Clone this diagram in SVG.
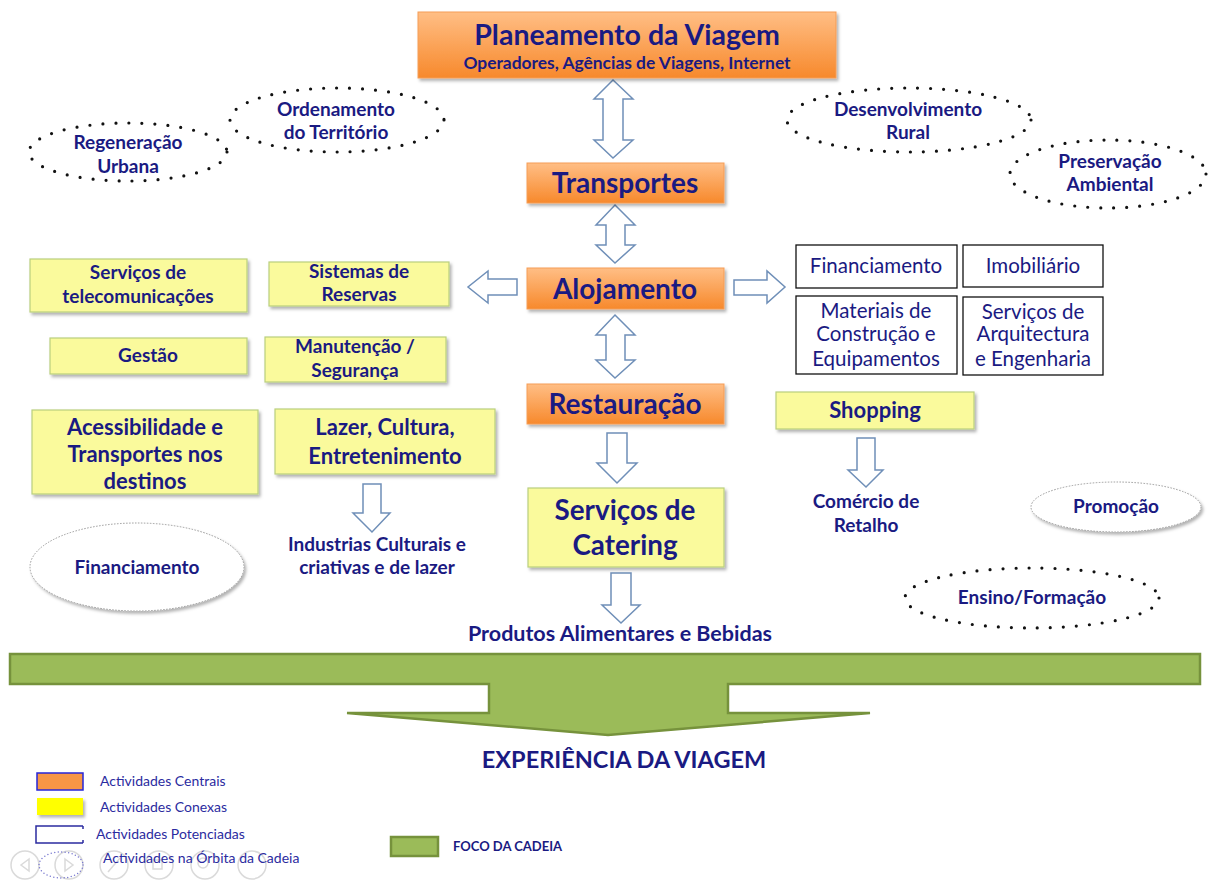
<svg xmlns="http://www.w3.org/2000/svg" width="1208" height="882" viewBox="0 0 1208 882">
<defs>
<linearGradient id="og" x1="0" y1="0" x2="0" y2="1">
<stop offset="0" stop-color="#FFBE85"/>
<stop offset="1" stop-color="#F7892C"/>
</linearGradient>
<filter id="sh" x="-10%" y="-10%" width="125%" height="135%">
<feDropShadow dx="2" dy="2.5" stdDeviation="1.5" flood-color="#000" flood-opacity="0.3"/>
</filter>
</defs>
<style>
text{font-family:Lato,"Open Sans","Liberation Sans",sans-serif;fill:#1A1A82;text-anchor:middle}
.b{font-weight:700}
.n{font-weight:400}
.s{font-size:19px}
.r{font-size:20.5px}
.core{fill:url(#og);stroke:#F59D56;stroke-width:1;filter:url(#sh)}
.rel{fill:#FAFA9C;stroke:#B9CF7E;stroke-width:1.2;filter:url(#sh)}
.pot{fill:#fff;stroke:#111;stroke-width:1.3}
.arr{fill:#fff;stroke:#6F8FB8;stroke-width:1.5;stroke-linejoin:miter}
.orb{fill:none;stroke:#111;stroke-width:3.2;stroke-linecap:round;stroke-dasharray:0 13}
.soft{fill:#fff;stroke:#999;stroke-width:1;stroke-dasharray:1.5 1.5;filter:url(#sh)}
.lg{font-size:14px;text-anchor:start;fill:#2B2BA0}
.tb{fill:none;stroke:#DADADA;stroke-width:1.5}
</style>
<rect width="1208" height="882" fill="#fff"/>

<g id="connectors">
<path class="arr" d="M613,80 L633,99 L623,99 L623,140 L633,140 L613,158 L594,140 L603,140 L603,99 L594,99 Z"/>
<path class="arr" d="M615,205 L635,225 L625,225 L625,245 L635,245 L615,263 L596,245 L606,245 L606,225 L596,225 Z"/>
<path class="arr" d="M615,315 L635,335 L625,335 L625,360 L635,360 L615,378 L596,360 L606,360 L606,335 L596,335 Z"/>
<path class="arr" d="M607,433 L627,433 L627,463 L637,463 L617,483 L597,463 L607,463 Z"/>
<path class="arr" d="M611,573 L631,573 L631,605 L640,605 L621,623 L602,605 L611,605 Z"/>
<path class="arr" d="M517,279 L488,279 L488,271 L468,287 L488,303 L488,295 L517,295 Z"/>
<path class="arr" d="M734,280 L767,280 L767,271 L785,287 L767,303 L767,295 L734,295 Z"/>
<path class="arr" d="M857,438 L875,438 L875,470 L883,470 L866,487 L848,470 L857,470 Z"/>
<path class="arr" d="M363,484 L381,484 L381,513 L390,513 L372,532 L353,513 L363,513 Z"/>
</g>

<g id="planeamento">
<rect class="core" x="418" y="12" width="418" height="66"/>
<text class="b" x="627" y="45" font-size="28.5">Planeamento da Viagem</text>
<text class="b" x="627" y="69" font-size="17.4">Operadores, Agências de Viagens, Internet</text>
</g>
<g id="transportes">
<rect class="core" x="527" y="163" width="197" height="40"/>
<text class="b" x="625" y="193" font-size="28">Transportes</text>
</g>
<g id="alojamento">
<rect class="core" x="527" y="268" width="197" height="41"/>
<text class="b" x="625" y="299" font-size="28">Alojamento</text>
</g>
<g id="restauracao">
<rect class="core" x="527" y="384" width="197" height="40"/>
<text class="b" x="625" y="414" font-size="28">Restauração</text>
</g>
<g id="catering">
<rect class="rel" x="528" y="488" width="196" height="79"/>
<text class="b" x="625" y="520" font-size="27.8">Serviços de</text>
<text class="b" x="625" y="555" font-size="27.8">Catering</text>
</g>
<g id="produtos">
<text class="b" x="620" y="641" font-size="21.5">Produtos Alimentares e Bebidas</text>
</g>

<g id="telecom">
<rect class="rel" x="30" y="259" width="217" height="53"/>
<text class="b s" x="138" y="279">Serviços de</text>
<text class="b s" x="138" y="303">telecomunicações</text>
</g>
<g id="reservas">
<rect class="rel" x="269" y="262" width="180" height="44"/>
<text class="b s" x="359" y="278">Sistemas de</text>
<text class="b s" x="359" y="301">Reservas</text>
</g>
<g id="gestao">
<rect class="rel" x="50" y="338" width="197" height="36"/>
<text class="b s" x="148" y="362">Gestão</text>
</g>
<g id="manutencao">
<rect class="rel" x="265" y="337" width="181" height="45"/>
<text class="b s" x="355" y="353">Manutenção /</text>
<text class="b s" x="355" y="377">Segurança</text>
</g>
<g id="acessibilidade">
<rect class="rel" x="32" y="410" width="226" height="84"/>
<text class="b" x="145" y="435" font-size="22">Acessibilidade e</text>
<text class="b" x="145" y="462" font-size="22">Transportes nos</text>
<text class="b" x="145" y="489" font-size="22">destinos</text>
</g>
<g id="lazer">
<rect class="rel" x="275" y="409" width="220" height="65"/>
<text class="b" x="385" y="435" font-size="22">Lazer, Cultura,</text>
<text class="b" x="385" y="464" font-size="22">Entretenimento</text>
</g>
<g id="industrias">
<text class="b s" x="377" y="551">Industrias Culturais e</text>
<text class="b s" x="377" y="574">criativas e de lazer</text>
</g>
<g id="financiamento-orb">
<ellipse class="soft" cx="137" cy="567" rx="107" ry="44"/>
<text class="b s" x="137" y="574">Financiamento</text>
</g>

<g id="financiamento">
<rect class="pot" x="796" y="245" width="161" height="43"/>
<text class="n r" x="876" y="273">Financiamento</text>
</g>
<g id="imobiliario">
<rect class="pot" x="963" y="245" width="140" height="42"/>
<text class="n r" x="1033" y="273">Imobiliário</text>
</g>
<g id="materiais">
<rect class="pot" x="796" y="296" width="161" height="78"/>
<text class="n r" x="876" y="318">Materiais de</text>
<text class="n r" x="876" y="341">Construção e</text>
<text class="n r" x="876" y="366">Equipamentos</text>
</g>
<g id="arquitectura">
<rect class="pot" x="963" y="297" width="140" height="78"/>
<text class="n r" x="1033" y="319">Serviços de</text>
<text class="n r" x="1033" y="341">Arquitectura</text>
<text class="n r" x="1033" y="366">e Engenharia</text>
</g>
<g id="shopping">
<rect class="rel" x="776" y="392" width="198" height="37"/>
<text class="b" x="875" y="418" font-size="22">Shopping</text>
</g>
<g id="comercio">
<text class="b s" x="866" y="508">Comércio de</text>
<text class="b s" x="866" y="532">Retalho</text>
</g>
<g id="promocao">
<ellipse class="soft" cx="1116" cy="507" rx="85" ry="25"/>
<text class="b s" x="1116" y="513">Promoção</text>
</g>

<g id="regeneracao">
<ellipse class="orb" cx="128" cy="152" rx="99" ry="29"/>
<text class="b s" x="128" y="149">Regeneração</text>
<text class="b s" x="128" y="173">Urbana</text>
</g>
<g id="ordenamento">
<ellipse class="orb" cx="337" cy="120" rx="107" ry="32"/>
<text class="b s" x="336" y="116">Ordenamento</text>
<text class="b s" x="336" y="139">do Território</text>
</g>
<g id="desenvolvimento">
<ellipse class="orb" cx="909" cy="120" rx="122" ry="32"/>
<text class="b s" x="908" y="116">Desenvolvimento</text>
<text class="b s" x="908" y="139">Rural</text>
</g>
<g id="preservacao">
<ellipse class="orb" cx="1108" cy="174" rx="98" ry="34"/>
<text class="b s" x="1110" y="168">Preservação</text>
<text class="b s" x="1110" y="191">Ambiental</text>
</g>
<g id="ensino">
<ellipse class="orb" cx="1032" cy="598" rx="127" ry="30"/>
<text class="b s" x="1032" y="604">Ensino/Formação</text>
</g>

<g id="foco">
<path d="M10,654 L1200,654 L1200,684 L728,684 L728,713 L870,713 L608,735 L347,713 L489,713 L489,684 L10,684 Z" fill="#9BBB59" stroke="#76923C" stroke-width="2.5" stroke-linejoin="miter"/>
<text class="b" x="624" y="768" font-size="23.5">EXPERIÊNCIA DA VIAGEM</text>
</g>

<g id="toolbar">
<circle class="tb" cx="25" cy="865" r="14"/>
<path class="tb" d="M29,859 L21,865 L29,871 Z"/>
<circle class="tb" cx="69" cy="865" r="14"/>
<path class="tb" d="M65,859 L73,865 L65,871 Z"/>
<circle class="tb" cx="114" cy="865" r="14"/>
<path class="tb" d="M108,872 L120,858"/>
<circle class="tb" cx="159" cy="865" r="14"/>
<rect class="tb" x="153" y="860" width="9" height="9"/>
<circle class="tb" cx="205" cy="865" r="14"/>
<circle class="tb" cx="203" cy="863" r="5"/>
<circle class="tb" cx="252" cy="865" r="14"/>
</g>

<g id="legend">
<rect x="37" y="773" width="46" height="17" fill="#F79646" stroke="#2626D9" stroke-width="1.5"/>
<text class="lg" x="100" y="786">Actividades Centrais</text>
<rect x="37" y="798" width="46" height="17" fill="#FFFF00" filter="url(#sh)"/>
<text class="lg" x="100" y="812">Actividades Conexas</text>
<path d="M83,826 L36,826 L36,843 L83,843 M83,826 L83,829 M83,843 L83,840" fill="none" stroke="#2B2BA0" stroke-width="1.5"/>
<text class="lg" x="96" y="839">Actividades Potenciadas</text>
<ellipse cx="61" cy="865" rx="22" ry="13" fill="none" stroke="#7A7AD0" stroke-width="1.5" stroke-linecap="round" stroke-dasharray="0 3.5"/>
<text class="lg" x="103" y="863">Actividades na Órbita da Cadeia</text>
<rect x="391" y="837" width="47" height="19" fill="#9BBB59" stroke="#76923C" stroke-width="2.5"/>
<text class="b" x="453" y="851" style="font-size:13px;text-anchor:start">FOCO DA CADEIA</text>
</g>
</svg>
